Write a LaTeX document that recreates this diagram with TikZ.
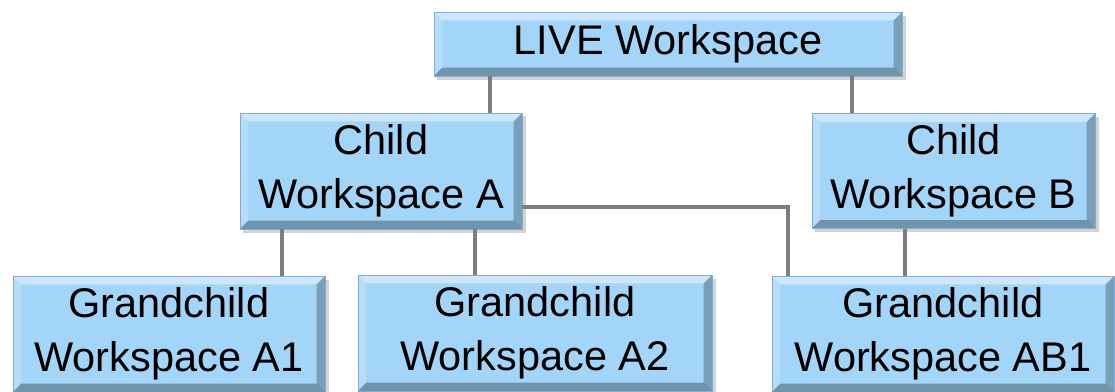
\documentclass[tikz,border=0pt]{standalone}
\usepackage{fontspec}
\setmainfont{Liberation Sans}
\usetikzlibrary{shadows}
\definecolor{wsblue}{RGB}{163,213,248}
\definecolor{wsedge}{RGB}{130,172,215}
\definecolor{wsline}{RGB}{125,125,125}
\begin{document}
\begin{tikzpicture}[x = 0.025cm, y = -0.025cm,
	wsbox/.style = {fill=wsblue, draw=wsedge, line width=0.5pt, align=center, inner sep=0pt,
		font=\fontsize{29.5}{38.5}\selectfont,
		drop shadow={shadow xshift=2.5pt, shadow yshift=-2.5pt, opacity=.35},
		path picture={
			\coordinate (nw) at (path picture bounding box.north west);
			\coordinate (ne) at (path picture bounding box.north east);
			\coordinate (sw) at (path picture bounding box.south west);
			\coordinate (se) at (path picture bounding box.south east);
			\fill[white, opacity=.45] (nw) -- (ne) -- ([shift={(-6pt,-6pt)}]ne) -- ([shift={(6pt,-6pt)}]nw) -- cycle;
			\fill[white, opacity=.2] (nw) -- ([shift={(6pt,-6pt)}]nw) -- ([shift={(6pt,6pt)}]sw) -- (sw) -- cycle;
			\fill[black, opacity=.25] (ne) -- (se) -- ([shift={(-6pt,6pt)}]se) -- ([shift={(-6pt,-6pt)}]ne) -- cycle;
			\fill[black, opacity=.3] (sw) -- (se) -- ([shift={(-6pt,6pt)}]se) -- ([shift={(6pt,6pt)}]sw) -- cycle;
		}},
	link/.style = {draw=wsline, line width=2.9pt},]
		\useasboundingbox (0,0) rectangle (1115,392);

		\node[wsbox, minimum width=11.7cm, minimum height=1.6cm] (live) at (668,44) {LIVE Workspace};
		\node[wsbox, minimum width=7.05cm, minimum height=2.9cm] (childA) at (381,171) {Child\\Workspace A};
		\node[wsbox, minimum width=7.075cm, minimum height=2.875cm] (childB) at (953.5,171) {Child\\Workspace B};
		\node[wsbox, minimum width=7.8cm, minimum height=2.9cm] (gcA1) at (169,334) {Grandchild\\Workspace A1};
		\node[wsbox, minimum width=8.85cm, minimum height=2.9cm] (gcA2) at (535,333) {Grandchild\\Workspace A2};
		\node[wsbox, minimum width=8.55cm, minimum height=2.9cm] (gcAB1) at (943,334) {Grandchild\\Workspace AB1};

		% where the links drop
		\coordinate (xA) at (490,0);
		\coordinate (xB) at (852,0);
		\coordinate (xA1) at (282,0);
		\coordinate (xA2) at (475,0);
		\coordinate (yAB) at (0,207);
		\coordinate (xAB) at (788,0);
		\coordinate (xB1) at (905,0);

		\draw[link] (live.south -| xA) -- (childA.north -| xA);
		\draw[link] (live.south -| xB) -- (childB.north -| xB);
		\draw[link] (childA.south -| xA1) -- (gcA1.north -| xA1);
		\draw[link] (childA.south -| xA2) -- (gcA2.north -| xA2);
		\draw[link] (childA.east |- yAB) -| (gcAB1.north -| xAB);
		\draw[link] (childB.south -| xB1) -- (gcAB1.north -| xB1);
	\end{tikzpicture}
\end{document}
